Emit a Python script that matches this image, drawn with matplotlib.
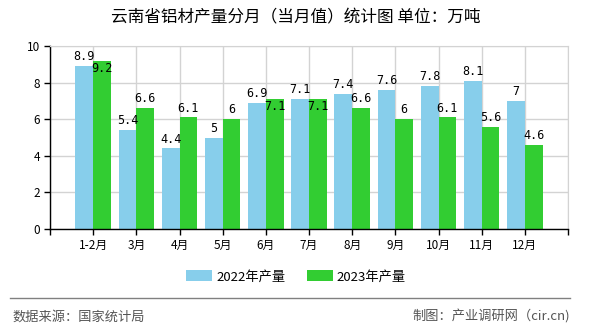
import numpy as np
import matplotlib
matplotlib.use('Agg')
import matplotlib.pyplot as plt
from matplotlib.patches import Patch
from matplotlib.lines import Line2D

plt.rcParams['font.family'] = ['Noto Sans CJK SC', 'DejaVu Sans']

months = ['1-2月', '3月', '4月', '5月', '6月', '7月', '8月', '9月', '10月', '11月', '12月']
values_2022 = [8.9, 5.4, 4.4, 5, 6.9, 7.1, 7.4, 7.6, 7.8, 8.1, 7]
values_2023 = [9.2, 6.6, 6.1, 6, 7.1, 7.1, 6.6, 6, 6.1, 5.6, 4.6]
yticks = [0, 2, 4, 6, 8, 10]

blue = '#87CEEB'
green = '#32CD32'

W, H = 590, 330
fig = plt.figure(figsize=(W / 100, H / 100), dpi=100)
ax = fig.add_axes([50 / W, 1 - 229 / H, (568 - 50) / W, (229 - 46) / H])

x = np.arange(len(months))
bw = 0.41
ax.bar(x, values_2022, width=-bw, align='edge', color=blue, zorder=2)
ax.bar(x, values_2023, width=bw, align='edge', color=green, zorder=2)

# value labels; green label goes inside the bar when it would clash with the blue one
for i in range(len(months)):
    ax.annotate(f'{values_2022[i]:g}', (x[i] - bw / 2, values_2022[i]), xytext=(0, 2),
                textcoords='offset points', ha='center', va='bottom',
                fontsize=8.5, family='DejaVu Sans Mono', zorder=3)
    if abs(values_2023[i] - values_2022[i]) < 0.5:
        off, va = (0, -1), 'top'
    else:
        off, va = (0, 2), 'bottom'
    ax.annotate(f'{values_2023[i]:g}', (x[i] + bw / 2, values_2023[i]), xytext=off,
                textcoords='offset points', ha='center', va=va,
                fontsize=8.5, family='DejaVu Sans Mono', zorder=3)

ax.set_xlim(-1, len(months))
ax.set_ylim(0, 10)
ax.set_yticks(yticks)
ax.set_yticklabels([str(v) for v in yticks], fontsize=8.5)
ax.set_xticks(np.arange(-1, len(months) + 1))
ax.set_xticklabels([''] + months + [''], fontsize=8.5)
ax.tick_params(axis='both', length=4, width=1, color='black', pad=3)

ax.grid(True, color='#d3d3d3', linewidth=1, zorder=0)
for s in ['top', 'right']:
    ax.spines[s].set_color('#d3d3d3')
for s in ['left', 'bottom']:
    ax.spines[s].set_color('black')
    ax.spines[s].set_linewidth(1)
ax.set_axisbelow(True)

fig.text(296 / W, 1 - 18 / H, '云南省铝材产量分月（当月值）统计图 单位：万吨',
         ha='center', va='center', fontsize=12)

handles = [Patch(facecolor=blue, label='2022年产量'), Patch(facecolor=green, label='2023年产量')]
fig.legend(handles=handles, loc='center', bbox_to_anchor=(296 / W, 1 - 277 / H), ncol=2,
           frameon=False, fontsize=9.5, handlelength=2.0, handleheight=0.9,
           columnspacing=1.6, handletextpad=0.3)

fig.add_artist(Line2D([10 / W, 570 / W], [1 - 298 / H, 1 - 298 / H], color='#808080', linewidth=1))
fig.text(12 / W, 1 - 317 / H, '数据来源：国家统计局', ha='left', va='center', fontsize=9.5, color='#555555')
fig.text(570 / W, 1 - 317 / H, '制图：产业调研网（cir.cn)', ha='right', va='center', fontsize=9.5, color='#555555')

fig.savefig('out.png', dpi=100)
